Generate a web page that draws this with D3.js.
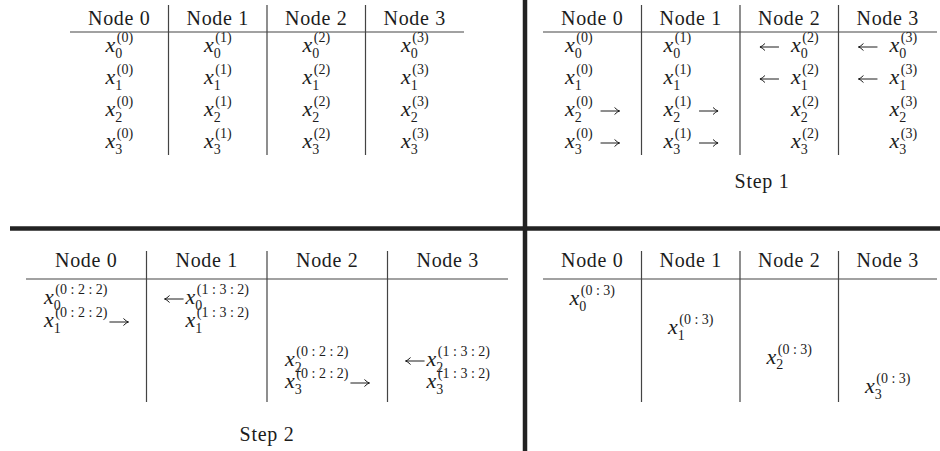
<!DOCTYPE html>
<html>
<head>
<meta charset="utf-8">
<script src="https://cdn.jsdelivr.net/npm/d3@7"></script>
<style>
  body { margin: 0; background: #fff; }
  svg { display: block; }
  text { font-family: "Liberation Serif", "DejaVu Serif", serif; fill: #1c1c1c; }
</style>
</head>
<body>
<svg id="chart"></svg>
<script>
const nodeLabels = ["Node 0", "Node 1", "Node 2", "Node 3"];
const stepLabels = ["Step 1", "Step 2"];

// cells: [column, row, subscript, superscript, arrow]
const initialCells = [
    [0, 0, "0", "(0)", ""], [0, 1, "1", "(0)", ""], [0, 2, "2", "(0)", ""], [0, 3, "3", "(0)", ""],
    [1, 0, "0", "(1)", ""], [1, 1, "1", "(1)", ""], [1, 2, "2", "(1)", ""], [1, 3, "3", "(1)", ""],
    [2, 0, "0", "(2)", ""], [2, 1, "1", "(2)", ""], [2, 2, "2", "(2)", ""], [2, 3, "3", "(2)", ""],
    [3, 0, "0", "(3)", ""], [3, 1, "1", "(3)", ""], [3, 2, "2", "(3)", ""], [3, 3, "3", "(3)", ""]
];
const step1Cells = [
    [0, 0, "0", "(0)", ""], [0, 1, "1", "(0)", ""], [0, 2, "2", "(0)", "right"], [0, 3, "3", "(0)", "right"],
    [1, 0, "0", "(1)", ""], [1, 1, "1", "(1)", ""], [1, 2, "2", "(1)", "right"], [1, 3, "3", "(1)", "right"],
    [2, 0, "0", "(2)", "left"], [2, 1, "1", "(2)", "left"], [2, 2, "2", "(2)", ""], [2, 3, "3", "(2)", ""],
    [3, 0, "0", "(3)", "left"], [3, 1, "1", "(3)", "left"], [3, 2, "2", "(3)", ""], [3, 3, "3", "(3)", ""]
];
const step2Cells = [
    [0, 0, "0", "(0 : 2 : 2)", ""], [0, 1, "1", "(0 : 2 : 2)", "right"],
    [1, 0, "0", "(1 : 3 : 2)", "left"], [1, 1, "1", "(1 : 3 : 2)", ""],
    [2, 2, "2", "(0 : 2 : 2)", ""], [2, 3, "3", "(0 : 2 : 2)", "right"],
    [3, 2, "2", "(1 : 3 : 2)", "left"], [3, 3, "3", "(1 : 3 : 2)", ""]
];
const finalCells = [
    [0, 0, "0", "(0 : 3)", ""], [1, 1, "1", "(0 : 3)", ""],
    [2, 2, "2", "(0 : 3)", ""], [3, 3, "3", "(0 : 3)", ""]
];

const width = 940;
const height = 451;

const svg = d3.select('#chart')
    .attr('width', width)
    .attr('height', height)
    .attr('viewBox', `0 0 ${width} ${height}`);

// Layout of the four sub-tables
const panels = [
    { cells: initialCells, x: [70, 464], head: 25, rule: 32, sepTop: 5, sepBottom: 155,
      rows: [52, 148], leftGap: 12, rightGap: 8 },
    { cells: step1Cells, x: [543, 937], head: 25, rule: 32, sepTop: 5, sepBottom: 155,
      rows: [52, 148], leftGap: 12, rightGap: 8, step: { label: stepLabels[0], x: 762, y: 188 } },
    { cells: step2Cells, x: [26, 508], head: 267, rule: 279, sepTop: 251, sepBottom: 402,
      rows: [304, 327, 366, 388], leftGap: 2, rightGap: 2, step: { label: stepLabels[1], x: 267, y: 441 } },
    { cells: finalCells, x: [543, 937], head: 267, rule: 279, sepTop: 251, sepBottom: 402,
      rows: [305, 393], leftGap: 12, rightGap: 8 }
];

const arrowLen = 19;

// Thick dividers between the four quadrants
svg.append('line')
    .attr('x1', 10).attr('x2', width)
    .attr('y1', 228.5).attr('y2', 228.5)
    .attr('stroke', '#222').attr('stroke-width', 4.5);
svg.append('line')
    .attr('x1', 525).attr('x2', 525)
    .attr('y1', 0).attr('y2', height)
    .attr('stroke', '#222').attr('stroke-width', 4.5);

// thin TeX-like arrow starting at x0, pointing left or right
function arrowPath(x0, dir) {
    const y = -5;
    const tip = dir === 'right' ? x0 + arrowLen : x0;
    const tail = dir === 'right' ? x0 : x0 + arrowLen;
    const s = dir === 'right' ? -1 : 1;
    return `M${tail},${y}L${tip},${y}` +
        `M${tip + s * 5},${y - 3.5}Q${tip + s * 2},${y - 0.5} ${tip},${y}` +
        `Q${tip + s * 2},${y + 0.5} ${tip + s * 5},${y + 3.5}`;
}

function drawPanel(p) {
    const g = svg.append('g');
    const col = d3.scaleLinear().domain([0, nodeLabels.length]).range(p.x);
    const row = d3.scaleLinear()
        .domain(p.rows.length === 2 ? [0, 3] : [0, 1, 2, 3])
        .range(p.rows);

    // header rule
    g.append('line')
        .attr('x1', col(0)).attr('x2', col(nodeLabels.length))
        .attr('y1', p.rule).attr('y2', p.rule)
        .attr('stroke', '#444').attr('stroke-width', 1.2);

    // column separators
    g.selectAll('.sep')
        .data(d3.range(1, nodeLabels.length))
        .enter().append('line')
        .attr('class', 'sep')
        .attr('x1', d => col(d)).attr('x2', d => col(d))
        .attr('y1', p.sepTop).attr('y2', p.sepBottom)
        .attr('stroke', '#444').attr('stroke-width', 1.2);

    // headers
    g.selectAll('.head')
        .data(nodeLabels)
        .enter().append('text')
        .attr('class', 'head')
        .attr('x', (d, i) => col(i + 0.5))
        .attr('y', p.head)
        .attr('text-anchor', 'middle')
        .style('font-size', '20px')
        .style('letter-spacing', '0.7px')
        .text(d => d);

    // which columns need room for arrows (phantoms keep the x aligned)
    const hasLeft = nodeLabels.map((d, i) => p.cells.some(c => c[0] === i && c[4] === 'left'));
    const hasRight = nodeLabels.map((d, i) => p.cells.some(c => c[0] === i && c[4] === 'right'));

    p.cells.forEach(c => {
        const [ci, ri, sub, sup, arrow] = c;
        const cell = g.append('g');
        let pos = 0;

        if (hasLeft[ci]) {
            if (arrow === 'left') {
                cell.append('path')
                    .attr('d', arrowPath(pos, 'left'))
                    .attr('fill', 'none')
                    .attr('stroke', '#1c1c1c').attr('stroke-width', 1);
            }
            pos += arrowLen + p.leftGap;
        }

        const xs = cell.append('text')
            .attr('x', pos).attr('y', 0)
            .style('font-size', '22px')
            .style('font-style', 'italic')
            .text('x');
        pos += xs.node().getComputedTextLength();

        const supT = cell.append('text')
            .attr('x', pos + 1.5).attr('y', -10)
            .style('font-size', '14px')
            .text(sup);
        const subT = cell.append('text')
            .attr('x', pos).attr('y', 5.5)
            .style('font-size', '14px')
            .text(sub);
        pos += Math.max(supT.node().getComputedTextLength() + 1.5, subT.node().getComputedTextLength());

        if (hasRight[ci]) {
            pos += p.rightGap;
            if (arrow === 'right') {
                cell.append('path')
                    .attr('d', arrowPath(pos, 'right'))
                    .attr('fill', 'none')
                    .attr('stroke', '#1c1c1c').attr('stroke-width', 1);
            }
            pos += arrowLen;
        }

        cell.attr('transform', `translate(${col(ci + 0.5) - pos / 2},${row(ri)})`);
    });

    if (p.step) {
        g.append('text')
            .attr('x', p.step.x)
            .attr('y', p.step.y)
            .attr('text-anchor', 'middle')
            .style('font-size', '20px')
            .style('letter-spacing', '0.7px')
            .text(p.step.label);
    }
}

panels.forEach(drawPanel);
</script>
</body>
</html>
